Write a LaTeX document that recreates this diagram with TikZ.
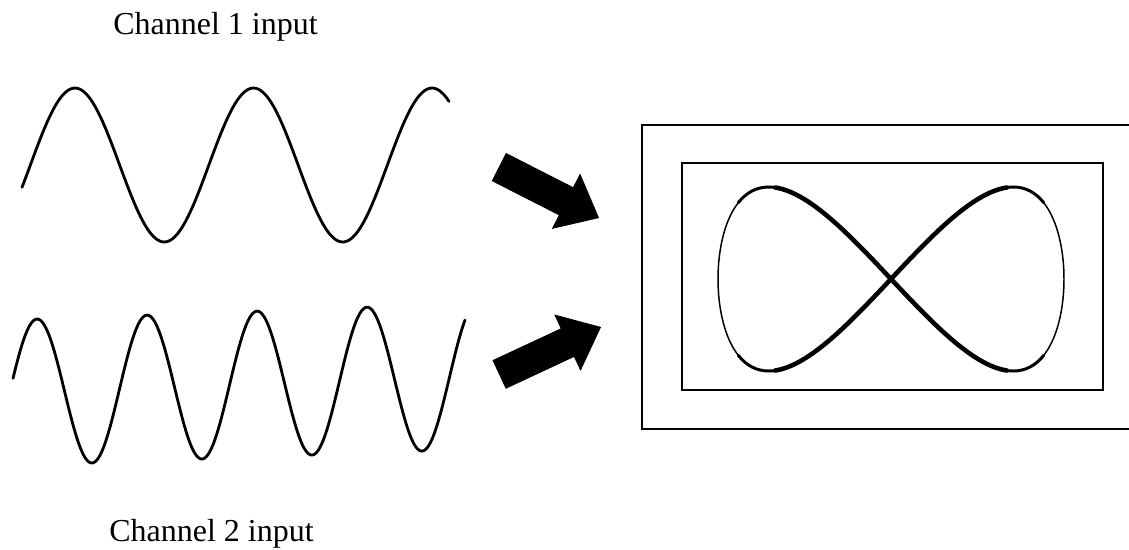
\documentclass[tikz,border=0pt]{standalone}
\usepackage{fontspec}
\setmainfont{Liberation Serif}
\usetikzlibrary{shapes.arrows,positioning,calc}

\begin{document}
\begin{tikzpicture}[x=0.02cm, y=-0.02cm,
    label/.style={inner sep=0pt, anchor=base west, font=\fontsize{18.2}{22}\selectfont},
    wave/.style={line width=1.6pt, line join=round, line cap=round},
    frame/.style={line width=0.75pt},
    blockarrow/.style={single arrow, fill=black, draw=black, inner sep=0.3cm, minimum height=2.23cm,
      single arrow head extend=0.3cm, single arrow tip angle=80, anchor=tip}]
  \useasboundingbox (0,0) rectangle (1129,549);

  \node (ch1) [label] at (113,34) {Channel 1 input};
  \node (ch2) [label] at (109,541) {Channel 2 input};

  \draw [wave] plot [domain=22:449, samples=160, smooth] (\x, {165-77*cos((\x-75)/178.5*360)});
  \draw [wave] plot [domain=13:465, samples=220, smooth] (\x, {392-0.036*(\x-37)-73*cos((\x-37)/110*360)});

  \node (arrow1) [blockarrow, rotate=-27] at (599,218) {};
  \node (arrow2) [blockarrow, rotate=25] at (601,327) {};

  \draw [frame] (1129,125) -- (642,125) -- (642,429) -- (1129,429);
  \draw [frame] (682,163) rectangle (1103,390);

  \draw [line width=0.85pt] plot [domain=0:360, samples=200, smooth cycle] ({891+173*sin(\x)}, {279-92*sin(2*\x)});
  \foreach \t in {0,180} {
    \draw [line width=1.7pt, line cap=round] plot [domain=\t-62:\t+62, samples=60, smooth] ({891+173*sin(\x)}, {279-92*sin(2*\x)});
    \draw [line width=2.6pt, line cap=round] plot [domain=\t-42:\t+42, samples=60, smooth] ({891+173*sin(\x)}, {279-92*sin(2*\x)});
  }
\end{tikzpicture}
\end{document}
